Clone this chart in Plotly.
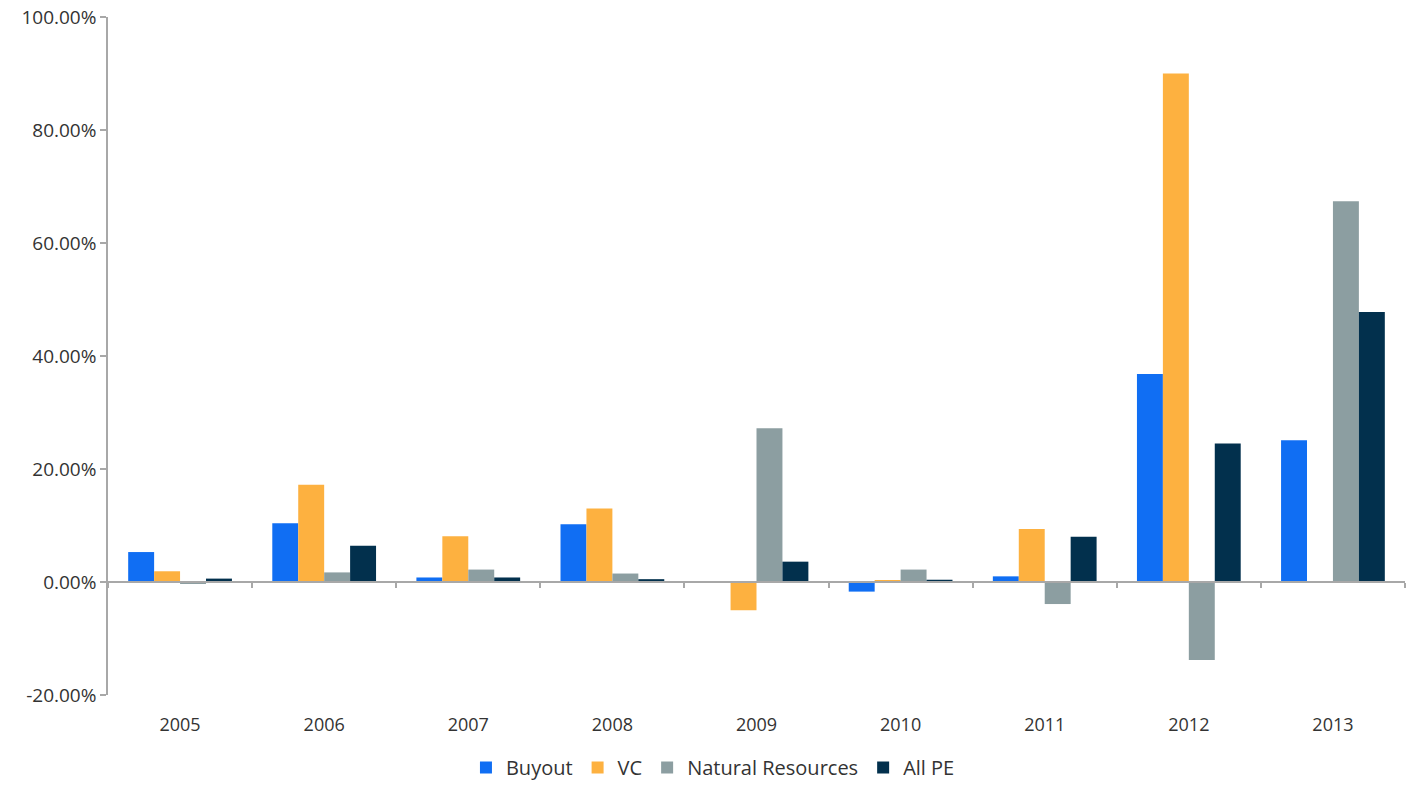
import plotly.graph_objects as go

years = ["2005", "2006", "2007", "2008", "2009", "2010", "2011", "2012", "2013"]
buyout = [5.3, 10.4, 0.8, 10.2, 0.0, -1.7, 1.0, 36.8, 25.1]
vc = [1.9, 17.2, 8.1, 13.0, -5.0, 0.2, 9.4, 90.0, 0.0]
natural_resources = [-0.2, 1.7, 2.2, 1.5, 27.2, 2.2, -3.9, -13.8, 67.4]
all_pe = [0.6, 6.4, 0.8, 0.5, 3.6, 0.4, 8.0, 24.5, 47.8]
y_ticks = [-20, 0, 20, 40, 60, 80, 100]
y_tick_labels = [f"{v:.2f}%" for v in y_ticks]

series = [
    ("Buyout", buyout, "#106ef3"),
    ("VC", vc, "#fdb140"),
    ("Natural Resources", natural_resources, "#8c9ea1"),
    ("All PE", all_pe, "#02304d"),
]

FONT = "Open Sans"
TEXT = "#333333"
AXIS = "#a8a8a8"

fig = go.Figure()
for name, vals, color in series:
    fig.add_trace(go.Bar(
        x=years, y=vals, name=name,
        marker=dict(color=color, line=dict(width=0)),
    ))

# invisible helper trace so the zero-line axis with boundary ticks is drawn
fig.add_trace(go.Scatter(
    x=[-0.5, len(years) - 0.5], y=[0, 0], xaxis="x2", yaxis="y",
    mode="lines", line=dict(width=0), showlegend=False, hoverinfo="skip",
))

fig.update_layout(
    width=1409, height=787,
    margin=dict(l=108, r=4, t=17, b=92),
    paper_bgcolor="white", plot_bgcolor="white",
    barmode="group", bargap=0.28, bargroupgap=0,
    font=dict(family=FONT, size=18, color=TEXT),
    xaxis=dict(
        type="category", showline=False, showgrid=False, zeroline=False,
        ticks="outside", ticklen=13, tickcolor="rgba(0,0,0,0)",
        tickfont=dict(size=18, color=TEXT),
    ),
    xaxis2=dict(
        overlaying="x", anchor="free", position=20 / 120,
        range=[-0.5, len(years) - 0.5],
        tickvals=[i - 0.5 for i in range(len(years) + 1)],
        showticklabels=False, showgrid=False, zeroline=False,
        showline=True, linecolor=AXIS, linewidth=1.5,
        ticks="outside", ticklen=5, tickwidth=1.5, tickcolor=AXIS,
    ),
    yaxis=dict(
        range=[-20, 100], tickvals=y_ticks, ticktext=y_tick_labels,
        showgrid=False, zeroline=False,
        showline=True, linecolor=AXIS, linewidth=1.5,
        ticks="outside", ticklen=6, tickwidth=1.5, tickcolor=AXIS,
        tickfont=dict(size=19, color=TEXT),
    ),
    legend=dict(
        orientation="h", xref="container", yref="container",
        x=0.506, xanchor="center", y=0.0, yanchor="bottom",
        font=dict(size=20, color=TEXT), itemwidth=30,
        traceorder="normal",
    ),
)

fig.write_html("out.html")
